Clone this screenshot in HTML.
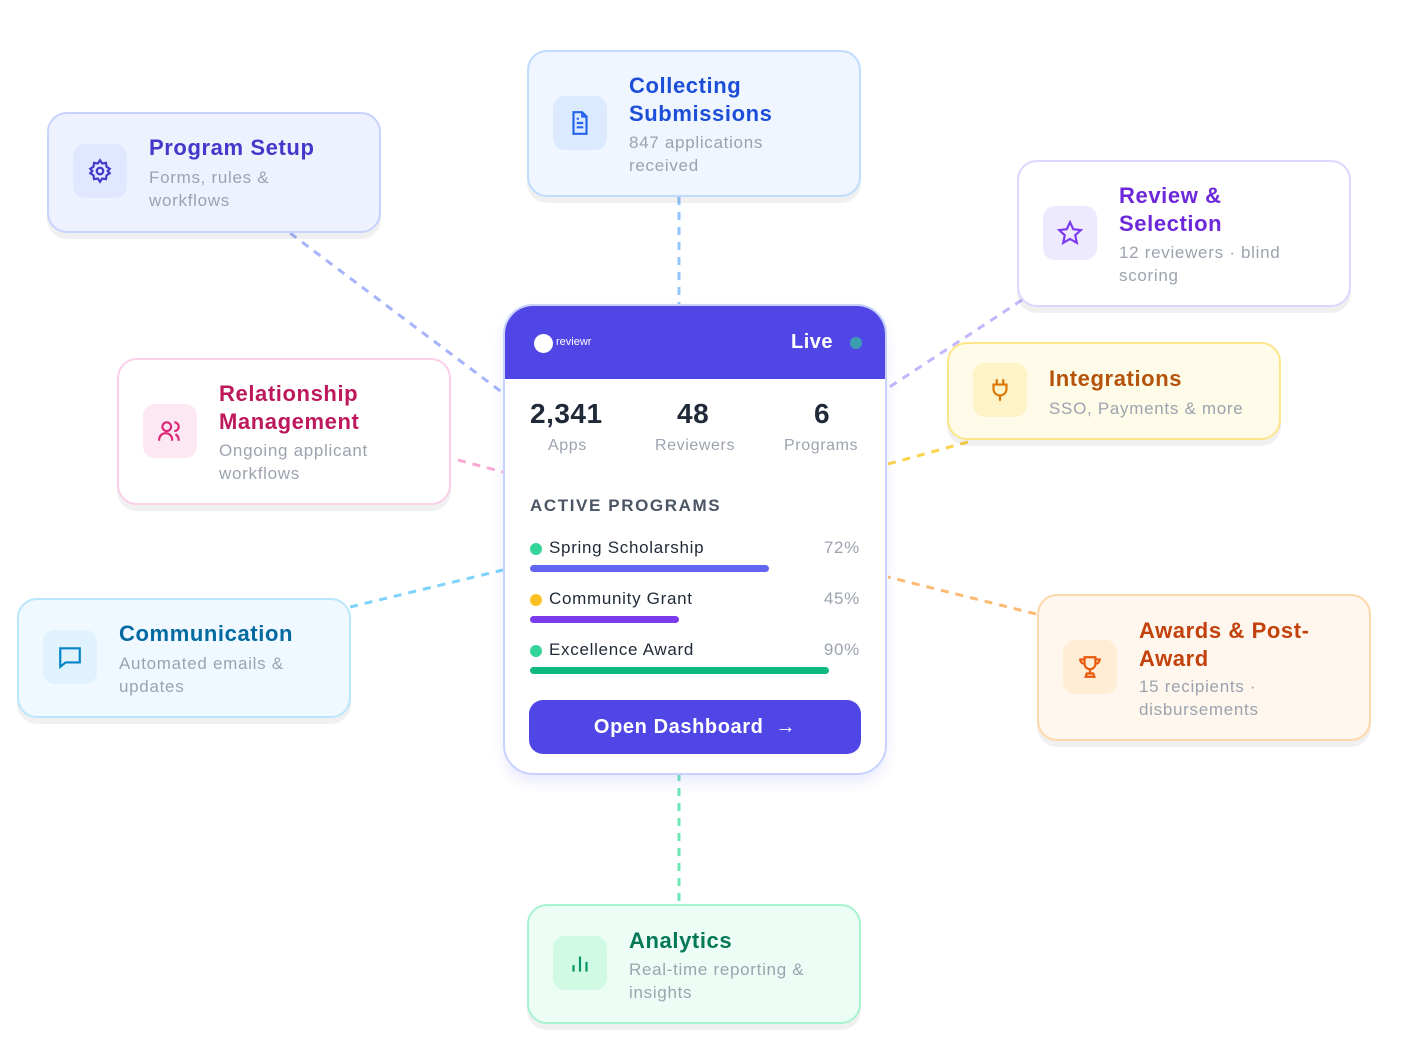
<!DOCTYPE html>
<html><head><meta charset="utf-8"><style>
*{box-sizing:border-box;margin:0;padding:0}
body{width:1402px;height:1058px;background:#fff;font-family:"Liberation Sans",sans-serif;position:relative;overflow:hidden}
.card{position:absolute;width:334px;border:2px solid;border-radius:20px;box-shadow:0 6px 0 rgba(0,0,0,0.06)}
.ic{position:absolute;left:24px;width:54px;height:54px;border-radius:12px;display:flex;align-items:center;justify-content:center}
.t{position:absolute;left:100px;font-weight:bold;font-size:22px;line-height:28px;letter-spacing:.6px}
.s{position:absolute;left:100px;font-size:17px;line-height:23px;color:#9ca3af;letter-spacing:.7px}
svg.l{position:absolute;left:0;top:0}
</style></head><body>
<svg class="l" width="1402" height="1058">
<g stroke-width="3" stroke-dasharray="8 7" fill="none">
<line x1="290" y1="233" x2="503" y2="393" stroke="#a5b4fc"/>
<line x1="679" y1="197" x2="679" y2="305" stroke="#93c5fd"/>
<line x1="1022" y1="300" x2="888" y2="388" stroke="#c4b5fd"/>
<line x1="968" y1="442" x2="888" y2="464" stroke="#fcd34d"/>
<line x1="458" y1="460" x2="503" y2="472" stroke="#f9a8d4"/>
<line x1="350" y1="607" x2="503" y2="570" stroke="#7dd3fc"/>
<line x1="1036" y1="614" x2="888" y2="577" stroke="#fdba74"/>
<line x1="679" y1="773" x2="679" y2="905" stroke="#6ee7b7"/>
</g></svg>

<div class="card" style="left:47px;top:112px;height:121px;background:#eef2ff;border-color:#c7d2fe">
<div class="ic" style="top:30px;background:#e0e7ff"><svg width="26" height="26" viewBox="0 0 24 24" fill="none" stroke="#4338ca" stroke-width="2"><circle cx="12" cy="12" r="3"/><path d="M12 2l2 3 3.5-.5.5 3.5 3 2-2 2 2 2-3 2-.5 3.5-3.5-.5-2 3-2-3-3.5.5-.5-3.5-3-2 2-2-2-2 3-2 .5-3.5 3.5.5z"/></svg></div>
<div class="t" style="top:20px;color:#4338ca">Program Setup</div>
<div class="s" style="top:52px">Forms, rules &amp;<br>workflows</div></div>

<div class="card" style="left:527px;top:50px;height:147px;background:#eff6ff;border-color:#bfdbfe">
<div class="ic" style="top:44px;background:#dbeafe"><svg width="26" height="26" viewBox="0 0 24 24" fill="none" stroke="#2563eb" stroke-width="2"><path d="M14 2H6v20h12V6z"/><path d="M14 2v4h4M9 12h6M9 16h6M9 8h2"/></svg></div>
<div class="t" style="top:20px;color:#1d4ed8">Collecting<br>Submissions</div>
<div class="s" style="top:79px">847 applications<br>received</div></div>

<div class="card" style="left:1017px;top:160px;height:147px;background:#fff;border-color:#ddd6fe">
<div class="ic" style="top:44px;background:#ede9fe"><svg width="26" height="26" viewBox="0 0 24 24" fill="none" stroke="#7c3aed" stroke-width="2"><path d="M12 2l3 6.5 7 .8-5.2 4.8 1.5 7L12 17.5 5.7 21.1l1.5-7L2 9.3l7-.8z"/></svg></div>
<div class="t" style="top:20px;color:#6d28d9">Review &amp;<br>Selection</div>
<div class="s" style="top:79px">12 reviewers · blind<br>scoring</div></div>

<div class="card" style="left:117px;top:358px;height:147px;background:#fff;border-color:#fbcfe8">
<div class="ic" style="top:44px;background:#fce7f3"><svg width="26" height="26" viewBox="0 0 24 24" fill="none" stroke="#db2777" stroke-width="2"><circle cx="9" cy="8" r="4"/><path d="M2 21v-1a6 6 0 0 1 12 0v1M16 4a4 4 0 0 1 0 8M20 21v-1a6 6 0 0 0-3-5"/></svg></div>
<div class="t" style="top:20px;color:#be185d">Relationship<br>Management</div>
<div class="s" style="top:79px">Ongoing applicant<br>workflows</div></div>

<div class="card" style="left:947px;top:342px;height:98px;background:#fefce8;border-color:#fde68a">
<div class="ic" style="top:19px;background:#fef3c7"><svg width="26" height="26" viewBox="0 0 24 24" fill="none" stroke="#d97706" stroke-width="2"><path d="M9 2v5M15 2v5M6 7h12v4a6 6 0 0 1-12 0zM12 17v5"/></svg></div>
<div class="t" style="top:21px;color:#b45309">Integrations</div>
<div class="s" style="top:53px">SSO, Payments &amp; more</div></div>

<div class="card" style="left:17px;top:598px;height:120px;background:#f0f9ff;border-color:#bae6fd">
<div class="ic" style="top:30px;background:#e0f2fe"><svg width="26" height="26" viewBox="0 0 24 24" fill="none" stroke="#0284c7" stroke-width="2"><path d="M3 4h18v13H8l-5 4z"/></svg></div>
<div class="t" style="top:20px;color:#0369a1">Communication</div>
<div class="s" style="top:52px">Automated emails &amp;<br>updates</div></div>

<div class="card" style="left:1037px;top:594px;height:147px;background:#fff7ed;border-color:#fed7aa">
<div class="ic" style="top:44px;background:#ffedd5"><svg width="26" height="26" viewBox="0 0 24 24" fill="none" stroke="#ea580c" stroke-width="2"><path d="M7 3h10v6a5 5 0 0 1-10 0zM7 5H3a4 4 0 0 0 4 4M17 5h4a4 4 0 0 1-4 4M12 14v4M8 21h8l-1-3H9z"/></svg></div>
<div class="t" style="top:21px;color:#c2410c">Awards &amp; Post-<br>Award</div>
<div class="s" style="top:79px">15 recipients ·<br>disbursements</div></div>

<div class="card" style="left:527px;top:904px;height:120px;background:#ecfdf5;border-color:#a7f3d0">
<div class="ic" style="top:30px;background:#d1fae5"><svg width="26" height="26" viewBox="0 0 24 24" fill="none" stroke="#059669" stroke-width="2"><path d="M6 20v-6M12 20V6M18 20v-9"/></svg></div>
<div class="t" style="top:21px;color:#047857">Analytics</div>
<div class="s" style="top:52px">Real-time reporting &amp;<br>insights</div></div>

<div style="position:absolute;left:503px;top:304px;width:384px;height:471px;border:2px solid #c7d2fe;border-radius:30px;background:#fff;overflow:hidden;box-shadow:0 8px 12px rgba(99,102,241,0.12)">
<div style="height:73px;background:#4f46e5;position:relative">
<div style="position:absolute;left:29px;top:28px;width:19px;height:19px;border-radius:50%;background:#fff"></div>
<div style="position:absolute;left:51px;top:30px;color:#fff;font-size:11px">reviewr</div>
<div style="position:absolute;left:286px;top:25px;color:#fff;font-weight:bold;font-size:20px;letter-spacing:.5px">Live</div>
<div style="position:absolute;left:345px;top:31px;width:12px;height:12px;border-radius:50%;background:#3b9db0"></div>
</div>
<div style="position:absolute;top:92px;left:0;width:100%;font-weight:bold;font-size:28px;color:#1f2937;letter-spacing:.5px">
<span style="position:absolute;left:25px">2,341</span><span style="position:absolute;left:172px">48</span><span style="position:absolute;left:309px">6</span></div>
<div style="position:absolute;top:131px;left:0;width:100%;font-size:16px;color:#9ca3af;letter-spacing:.6px">
<span style="position:absolute;left:43px">Apps</span><span style="position:absolute;left:150px">Reviewers</span><span style="position:absolute;left:279px">Programs</span></div>
<div style="position:absolute;top:190px;left:25px;font-weight:bold;font-size:17px;color:#4b5563;letter-spacing:1.6px">ACTIVE PROGRAMS</div>
<div style="position:absolute;left:25px;top:232px;width:330px;font-size:17px;color:#1f2937;letter-spacing:.7px">
<div style="position:relative;height:51px"><span style="position:absolute;left:0;top:5px;width:12px;height:12px;border-radius:50%;background:#34d399"></span><span style="position:absolute;left:19px;top:0">Spring Scholarship</span><span style="position:absolute;right:0;color:#9ca3af">72%</span><div style="position:absolute;left:0;top:27px;width:239px;height:7px;border-radius:4px;background:#6366f1"></div></div>
<div style="position:relative;height:51px"><span style="position:absolute;left:0;top:5px;width:12px;height:12px;border-radius:50%;background:#fbbf24"></span><span style="position:absolute;left:19px;top:0">Community Grant</span><span style="position:absolute;right:0;color:#9ca3af">45%</span><div style="position:absolute;left:0;top:27px;width:149px;height:7px;border-radius:4px;background:#7c3aed"></div></div>
<div style="position:relative;height:51px"><span style="position:absolute;left:0;top:5px;width:12px;height:12px;border-radius:50%;background:#34d399"></span><span style="position:absolute;left:19px;top:0">Excellence Award</span><span style="position:absolute;right:0;color:#9ca3af">90%</span><div style="position:absolute;left:0;top:27px;width:299px;height:7px;border-radius:4px;background:#10b981"></div></div>
</div>
<div style="position:absolute;left:24px;top:394px;width:332px;height:54px;border-radius:14px;background:#4f46e5;color:#fff;font-weight:bold;font-size:20px;letter-spacing:.6px;display:flex;align-items:center;justify-content:center;gap:12px">Open Dashboard <span style="font-weight:normal">→</span></div>
</div>
</body></html>
